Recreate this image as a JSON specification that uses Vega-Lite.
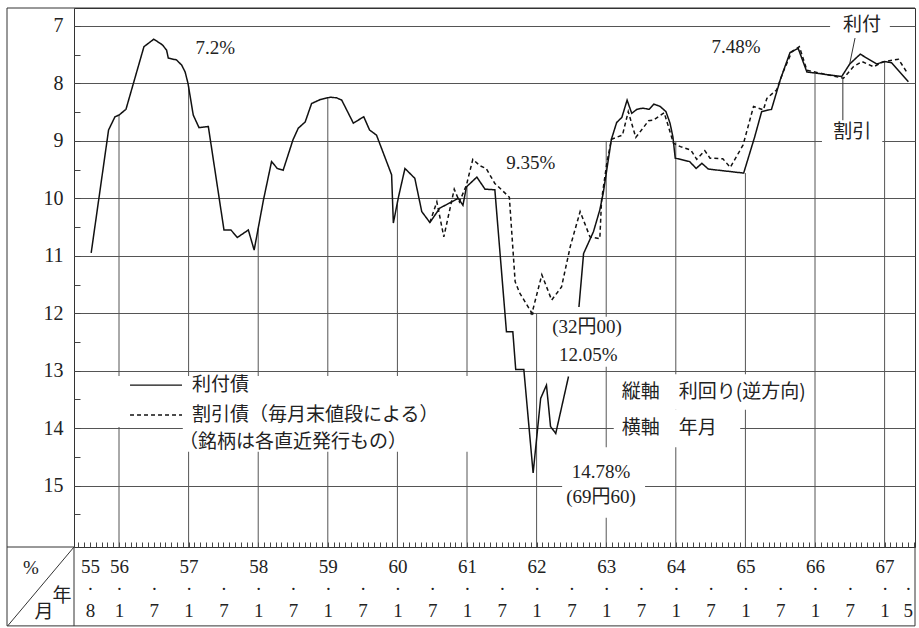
{
  "$schema": "https://vega.github.io/schema/vega-lite/v6.json",
  "width": 841,
  "height": 539,
  "autosize": {"type": "none"},
  "padding": {"left": 74, "top": 8, "right": 4, "bottom": 81},
  "background": "white",
  "config": {"view": {"stroke": "#333", "strokeWidth": 1}},
  "datasets": {
    "curves": [
      {"t":7.2,"y":10.95,"s":"利付債","part":1},{"t":10.2,"y":8.81,"s":"利付債","part":1},{"t":11.3,"y":8.58,"s":"利付債","part":1},{"t":12.0,"y":8.55,"s":"利付債","part":1},{"t":13.2,"y":8.45,"s":"利付債","part":1},{"t":16.3,"y":7.36,"s":"利付債","part":1},{"t":18.0,"y":7.23,"s":"利付債","part":1},{"t":19.5,"y":7.33,"s":"利付債","part":1},{"t":20.2,"y":7.42,"s":"利付債","part":1},{"t":20.5,"y":7.56,"s":"利付債","part":1},{"t":21.9,"y":7.59,"s":"利付債","part":1},{"t":22.8,"y":7.68,"s":"利付債","part":1},{"t":23.4,"y":7.80,"s":"利付債","part":1},{"t":23.9,"y":8.00,"s":"利付債","part":1},{"t":24.8,"y":8.55,"s":"利付債","part":1},{"t":25.8,"y":8.77,"s":"利付債","part":1},{"t":27.4,"y":8.75,"s":"利付債","part":1},{"t":30.1,"y":10.55,"s":"利付債","part":1},{"t":31.3,"y":10.55,"s":"利付債","part":1},{"t":32.4,"y":10.68,"s":"利付債","part":1},{"t":34.3,"y":10.55,"s":"利付債","part":1},{"t":35.3,"y":10.90,"s":"利付債","part":1},{"t":36.9,"y":10.03,"s":"利付債","part":1},{"t":38.3,"y":9.36,"s":"利付債","part":1},{"t":39.3,"y":9.48,"s":"利付債","part":1},{"t":40.3,"y":9.51,"s":"利付債","part":1},{"t":42.0,"y":8.98,"s":"利付債","part":1},{"t":42.9,"y":8.78,"s":"利付債","part":1},{"t":44.1,"y":8.67,"s":"利付債","part":1},{"t":45.2,"y":8.35,"s":"利付債","part":1},{"t":46.7,"y":8.28,"s":"利付債","part":1},{"t":48.4,"y":8.24,"s":"利付債","part":1},{"t":49.5,"y":8.25,"s":"利付債","part":1},{"t":50.4,"y":8.29,"s":"利付債","part":1},{"t":52.4,"y":8.69,"s":"利付債","part":1},{"t":54.2,"y":8.58,"s":"利付債","part":1},{"t":55.2,"y":8.81,"s":"利付債","part":1},{"t":56.4,"y":8.90,"s":"利付債","part":1},{"t":59.0,"y":9.59,"s":"利付債","part":1},{"t":59.3,"y":10.43,"s":"利付債","part":1},{"t":60.2,"y":9.97,"s":"利付債","part":1},{"t":61.3,"y":9.48,"s":"利付債","part":1},{"t":63.0,"y":9.65,"s":"利付債","part":1},{"t":64.2,"y":10.23,"s":"利付債","part":1},{"t":65.6,"y":10.42,"s":"利付債","part":1},{"t":67.3,"y":10.17,"s":"利付債","part":1},{"t":70.5,"y":10.00,"s":"利付債","part":1},{"t":71.3,"y":10.12,"s":"利付債","part":1},{"t":71.9,"y":9.80,"s":"利付債","part":1},{"t":73.7,"y":9.63,"s":"利付債","part":1},{"t":75.1,"y":9.84,"s":"利付債","part":1},{"t":76.8,"y":9.85,"s":"利付債","part":1},{"t":78.8,"y":12.32,"s":"利付債","part":1},{"t":79.9,"y":12.32,"s":"利付債","part":1},{"t":80.4,"y":12.98,"s":"利付債","part":1},{"t":81.8,"y":12.98,"s":"利付債","part":1},{"t":83.4,"y":14.78,"s":"利付債","part":1},{"t":84.7,"y":13.48,"s":"利付債","part":1},{"t":85.7,"y":13.25,"s":"利付債","part":1},{"t":86.4,"y":13.97,"s":"利付債","part":1},{"t":87.3,"y":14.09,"s":"利付債","part":1},{"t":89.5,"y":13.10,"s":"利付債","part":1},
      {"t":91.3,"y":11.89,"s":"利付債","part":2},{"t":92.1,"y":10.96,"s":"利付債","part":2},{"t":93.8,"y":10.58,"s":"利付債","part":2},{"t":94.9,"y":10.20,"s":"利付債","part":2},{"t":95.5,"y":9.90,"s":"利付債","part":2},{"t":96.9,"y":8.97,"s":"利付債","part":2},{"t":97.8,"y":8.68,"s":"利付債","part":2},{"t":98.7,"y":8.59,"s":"利付債","part":2},{"t":99.6,"y":8.29,"s":"利付債","part":2},{"t":100.4,"y":8.52,"s":"利付債","part":2},{"t":101.3,"y":8.45,"s":"利付債","part":2},{"t":102.3,"y":8.43,"s":"利付債","part":2},{"t":103.4,"y":8.45,"s":"利付債","part":2},{"t":104.2,"y":8.36,"s":"利付債","part":2},{"t":105.3,"y":8.40,"s":"利付債","part":2},{"t":106.3,"y":8.49,"s":"利付債","part":2},{"t":107.0,"y":8.69,"s":"利付債","part":2},{"t":107.5,"y":8.93,"s":"利付債","part":2},{"t":107.9,"y":9.30,"s":"利付債","part":2},{"t":110.4,"y":9.36,"s":"利付債","part":2},{"t":111.5,"y":9.48,"s":"利付債","part":2},{"t":112.5,"y":9.39,"s":"利付債","part":2},{"t":113.6,"y":9.49,"s":"利付債","part":2},{"t":119.7,"y":9.56,"s":"利付債","part":2},{"t":121.6,"y":8.93,"s":"利付債","part":2},{"t":122.8,"y":8.49,"s":"利付債","part":2},{"t":124.5,"y":8.45,"s":"利付債","part":2},{"t":126.0,"y":7.94,"s":"利付債","part":2},{"t":127.7,"y":7.46,"s":"利付債","part":2},{"t":129.1,"y":7.39,"s":"利付債","part":2},{"t":130.6,"y":7.80,"s":"利付債","part":2},{"t":136.6,"y":7.88,"s":"利付債","part":2},{"t":138.0,"y":7.66,"s":"利付債","part":2},{"t":139.8,"y":7.49,"s":"利付債","part":2},{"t":142.6,"y":7.66,"s":"利付債","part":2},{"t":144.1,"y":7.62,"s":"利付債","part":2},{"t":145.2,"y":7.64,"s":"利付債","part":2},{"t":148.1,"y":7.97,"s":"利付債","part":2},
      {"t":65.6,"y":10.42,"s":"割引債","part":3},{"t":66.8,"y":10.06,"s":"割引債","part":3},{"t":68.0,"y":10.67,"s":"割引債","part":3},{"t":69.8,"y":9.84,"s":"割引債","part":3},{"t":70.7,"y":10.06,"s":"割引債","part":3},{"t":71.9,"y":9.77,"s":"割引債","part":3},{"t":73.0,"y":9.32,"s":"割引債","part":3},{"t":74.2,"y":9.43,"s":"割引債","part":3},{"t":75.3,"y":9.48,"s":"割引債","part":3},{"t":76.8,"y":9.74,"s":"割引債","part":3},{"t":79.3,"y":9.98,"s":"割引債","part":3},{"t":80.3,"y":11.45,"s":"割引債","part":3},{"t":81.1,"y":11.65,"s":"割引債","part":3},{"t":83.2,"y":12.00,"s":"割引債","part":3},{"t":84.9,"y":11.33,"s":"割引債","part":3},{"t":86.6,"y":11.77,"s":"割引債","part":3},{"t":88.3,"y":11.54,"s":"割引債","part":3},{"t":89.8,"y":10.84,"s":"割引債","part":3},{"t":91.5,"y":10.23,"s":"割引債","part":3},{"t":93.2,"y":10.67,"s":"割引債","part":3},{"t":94.9,"y":10.70,"s":"割引債","part":3},{"t":95.2,"y":10.03,"s":"割引債","part":3},{"t":96.1,"y":9.39,"s":"割引債","part":3},{"t":96.9,"y":8.97,"s":"割引債","part":3},{"t":98.8,"y":8.90,"s":"割引債","part":3},{"t":99.8,"y":8.49,"s":"割引債","part":3},{"t":101.1,"y":8.94,"s":"割引債","part":3},{"t":103.3,"y":8.65,"s":"割引債","part":3},{"t":104.1,"y":8.64,"s":"割引債","part":3},{"t":106.0,"y":8.51,"s":"割引債","part":3},{"t":107.6,"y":9.04,"s":"割引債","part":3},{"t":108.8,"y":9.10,"s":"割引債","part":3},{"t":110.6,"y":9.16,"s":"割引債","part":3},{"t":111.6,"y":9.32,"s":"割引債","part":3},{"t":113.0,"y":9.17,"s":"割引債","part":3},{"t":113.9,"y":9.30,"s":"割引債","part":3},{"t":116.1,"y":9.31,"s":"割引債","part":3},{"t":117.4,"y":9.46,"s":"割引債","part":3},{"t":119.6,"y":9.07,"s":"割引債","part":3},{"t":121.4,"y":8.40,"s":"割引債","part":3},{"t":123.1,"y":8.46,"s":"割引債","part":3},{"t":123.7,"y":8.26,"s":"割引債","part":3},{"t":125.4,"y":8.11,"s":"割引債","part":3},{"t":126.5,"y":7.80,"s":"割引債","part":3},{"t":128.0,"y":7.45,"s":"割引債","part":3},{"t":129.3,"y":7.36,"s":"割引債","part":3},{"t":130.6,"y":7.77,"s":"割引債","part":3},{"t":136.9,"y":7.91,"s":"割引債","part":3},{"t":138.6,"y":7.71,"s":"割引債","part":3},{"t":140.1,"y":7.62,"s":"割引債","part":3},{"t":142.1,"y":7.71,"s":"割引債","part":3},{"t":143.8,"y":7.62,"s":"割引債","part":3},{"t":146.4,"y":7.58,"s":"割引債","part":3},{"t":147.8,"y":7.80,"s":"割引債","part":3}
    ],
    "jan": [
      {"t":12,"y":8.55},{"t":24,"y":8.05},{"t":36,"y":10.52},{"t":48,"y":8.24},{"t":60,"y":10.05},{"t":72,"y":9.78},{"t":84,"y":12.0},{"t":96,"y":9.0},{"t":108,"y":9.0},{"t":120,"y":9.56},{"t":132,"y":7.83},{"t":144,"y":7.62}
    ],
    "masks": [
      {"t1":11.3,"t2":23.0,"y1":13.09,"y2":13.98},
      {"t1":23.0,"t2":81.0,"y1":13.09,"y2":14.41},
      {"t1":97.3,"t2":131.5,"y1":13.06,"y2":13.68},
      {"t1":97.3,"t2":119.1,"y1":13.68,"y2":14.33},
      {"t1":85.4,"t2":100.1,"y1":12.06,"y2":12.93},
      {"t1":88.4,"t2":102.7,"y1":14.33,"y2":15.56},
      {"t1":134.6,"t2":144.9,"y1":6.79,"y2":7.21},
      {"t1":133.2,"t2":143.6,"y1":8.65,"y2":9.09}
    ],
    "segments": [
      {"x1":-7.31,"x2":149.24,"y1":6.687,"y2":6.687},
      {"x1":-7.31,"x2":-7.31,"y1":6.687,"y2":17.44},
      {"x1":-7.31,"x2":149.24,"y1":17.44,"y2":17.44},
      {"x1":149.24,"x2":149.24,"y1":16.067,"y2":17.44},
      {"x1":4.24,"x2":4.24,"y1":16.067,"y2":17.44},
      {"x1":-7.31,"x2":4.24,"y1":16.067,"y2":16.067},
      {"x1":4.24,"x2":-7.2,"y1":16.067,"y2":17.44},
      {"x1":138.9,"x2":138.0,"y1":7.21,"y2":7.65},
      {"x1":136.8,"x2":136.8,"y1":7.91,"y2":8.64}
    ],
    "keys": [
      {"s":"利付債","t1":13.9,"t2":22.86,"y":13.25},
      {"s":"割引債","t1":13.9,"t2":22.86,"y":13.77}
    ],
    "notes": [
      {"t":28.6,"y":7.38,"text":"7.2%"},
      {"t":83.0,"y":9.38,"text":"9.35%"},
      {"t":118.4,"y":7.37,"text":"7.48%"},
      {"t":140.1,"y":6.98,"text":"利付"},
      {"t":138.4,"y":8.84,"text":"割引"},
      {"t":92.7,"y":12.24,"text":"(32円00)"},
      {"t":92.9,"y":12.73,"text":"12.05%"},
      {"t":95.1,"y":14.76,"text":"14.78%"},
      {"t":95.1,"y":15.20,"text":"(69円60)"},
      {"t":-3.17,"y":16.43,"text":"%"},
      {"t":2.17,"y":16.92,"text":"年"},
      {"t":-0.93,"y":17.20,"text":"月"}
    ],
    "captions": [
      {"t":24.59,"y":13.25,"text":"利付債"},
      {"t":24.59,"y":13.77,"text":"割引債（毎月末値段による）"},
      {"t":22.35,"y":14.24,"text":"（銘柄は各直近発行もの）"},
      {"t":98.7,"y":13.37,"text":"縦軸　利回り(逆方向)"},
      {"t":98.7,"y":14.0,"text":"横軸　年月"}
    ]
  },
  "layer": [
    {
      "data": {"name": "jan"},
      "mark": {"type": "rule", "color": "#555", "strokeWidth": 1},
      "encoding": {
        "x": {
          "field": "t", "type": "quantitative", "title": null,
          "scale": {"domain": [4.24, 149.24], "nice": false, "zero": false},
          "axis": {
            "orient": "bottom", "title": null, "domain": false, "grid": false,
            "tickCount": 1000,
            "values": [5,6,7,8,9,10,11,12,13,14,15,16,17,18,19,20,21,22,23,24,25,26,27,28,29,30,31,32,33,34,35,36,37,38,39,40,41,42,43,44,45,46,47,48,49,50,51,52,53,54,55,56,57,58,59,60,61,62,63,64,65,66,67,68,69,70,71,72,73,74,75,76,77,78,79,80,81,82,83,84,85,86,87,88,89,90,91,92,93,94,95,96,97,98,99,100,101,102,103,104,105,106,107,108,109,110,111,112,113,114,115,116,117,118,119,120,121,122,123,124,125,126,127,128,129,130,131,132,133,134,135,136,137,138,139,140,141,142,143,144,145,146,147,148,149],
            "tickSize": -5, "tickColor": "#444", "tickWidth": 1,
            "labelExpr": "datum.value == 7 ? ['55', '·', '8'] : (datum.value % 12 == 0 ? ['' + (55 + datum.value / 12), '·', '1'] : ((datum.value % 12 == 6 && datum.value > 6) ? [' ', '·', '7'] : (datum.value == 148 ? [' ', '·', '5'] : '')))",
            "labelFont": "Liberation Serif", "labelFontSize": 19, "labelColor": "#222",
            "labelBaseline": "top", "labelLineHeight": 22, "labelPadding": 15,
            "labelOverlap": false, "labelFlush": false, "labelBound": false
          }
        },
        "y": {
          "field": "y", "type": "quantitative", "title": null,
          "scale": {"domain": [6.687, 16.067], "reverse": true, "nice": false, "zero": false},
          "axis": {
            "orient": "left", "title": null, "domain": false,
            "tickCount": 1000,
            "values": [7,7.5,8,8.5,9,9.5,10,10.5,11,11.5,12,12.5,13,13.5,14,14.5,15,15.5],
            "grid": true, "gridColor": "#555", "gridWidth": 1,
            "gridOpacity": {"condition": {"test": "datum.value % 1 != 0", "value": 0}, "value": 1},
            "tickSize": -6, "tickColor": "#444", "tickWidth": 1,
            "labelExpr": "datum.value % 1 == 0 ? format(datum.value, 'd') : ''",
            "labelFont": "Liberation Serif", "labelFontSize": 20, "labelColor": "#222",
            "labelPadding": 17, "labelOverlap": false
          }
        },
        "y2": {"datum": 16.067}
      }
    },
    {
      "data": {"name": "masks"},
      "mark": {"type": "rect", "fill": "white", "stroke": null},
      "encoding": {
        "x": {"field": "t1", "type": "quantitative", "title": null},
        "x2": {"field": "t2"},
        "y": {"field": "y1", "type": "quantitative", "title": null},
        "y2": {"field": "y2"}
      }
    },
    {
      "data": {"name": "segments"},
      "mark": {"type": "rule", "color": "#333", "strokeWidth": 1},
      "encoding": {
        "x": {"field": "x1", "type": "quantitative", "title": null},
        "x2": {"field": "x2"},
        "y": {"field": "y1", "type": "quantitative", "title": null},
        "y2": {"field": "y2"}
      }
    },
    {
      "data": {"name": "keys"},
      "mark": {"type": "rule", "color": "#111", "strokeWidth": 1.4},
      "encoding": {
        "x": {"field": "t1", "type": "quantitative", "title": null},
        "x2": {"field": "t2"},
        "y": {"field": "y", "type": "quantitative", "title": null},
        "strokeDash": {"field": "s", "type": "nominal", "legend": null, "scale": {"domain": ["利付債", "割引債"], "range": [[1, 0], [4, 3]]}}
      }
    },
    {
      "data": {"name": "curves"},
      "mark": {"type": "line", "color": "#111", "strokeWidth": 1.5},
      "encoding": {
        "x": {"field": "t", "type": "quantitative", "title": null},
        "y": {"field": "y", "type": "quantitative", "title": null},
        "detail": {"field": "part", "type": "nominal"},
        "strokeDash": {"field": "s", "type": "nominal", "legend": null, "scale": {"domain": ["利付債", "割引債"], "range": [[1, 0], [4, 3]]}}
      }
    },
    {
      "data": {"name": "curves"},
      "transform": [{"filter": "datum.s == '割引債' && datum.y == 12"}],
      "mark": {"type": "point", "filled": true, "color": "#111", "size": 14},
      "encoding": {
        "x": {"field": "t", "type": "quantitative", "title": null},
        "y": {"field": "y", "type": "quantitative", "title": null}
      }
    },
    {
      "data": {"name": "notes"},
      "mark": {"type": "text", "font": "Liberation Serif, Noto Sans CJK JP", "fontSize": 19, "color": "#222", "align": "center", "baseline": "middle"},
      "encoding": {
        "x": {"field": "t", "type": "quantitative", "title": null},
        "y": {"field": "y", "type": "quantitative", "title": null},
        "text": {"field": "text", "type": "nominal"}
      }
    },
    {
      "data": {"name": "captions"},
      "mark": {"type": "text", "font": "Noto Sans CJK JP", "fontSize": 19, "color": "#222", "align": "left", "baseline": "middle"},
      "encoding": {
        "x": {"field": "t", "type": "quantitative", "title": null},
        "y": {"field": "y", "type": "quantitative", "title": null},
        "text": {"field": "text", "type": "nominal"}
      }
    }
  ]
}
